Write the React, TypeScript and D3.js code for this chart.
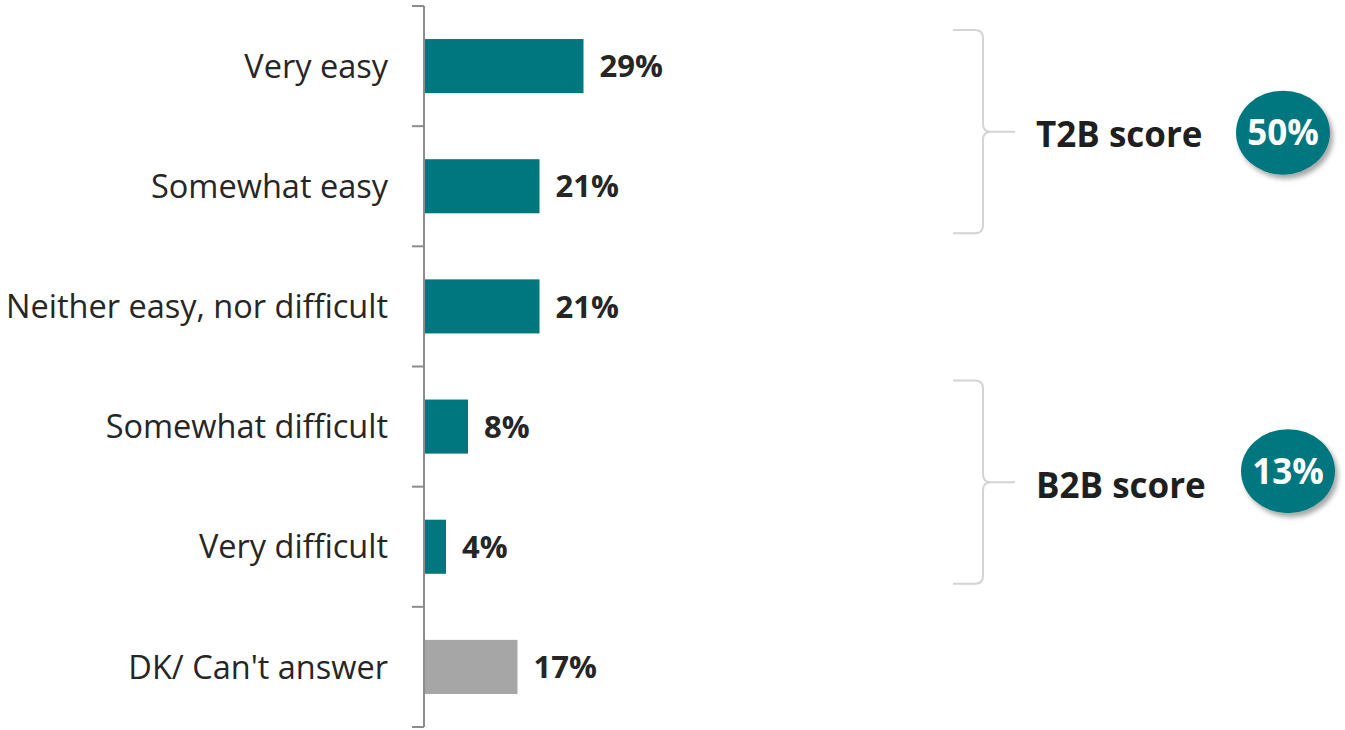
import React, { useEffect, useRef } from "react";
import * as d3 from "d3";

const categories = [
  "Very easy",
  "Somewhat easy",
  "Neither easy, nor difficult",
  "Somewhat difficult",
  "Very difficult",
  "DK/ Can't answer",
];
const values = [29, 21, 21, 8, 4, 17];
const barColors = ["#00767e", "#00767e", "#00767e", "#00767e", "#00767e", "#a6a6a6"];

const groupLabels = ["T2B score", "B2B score"];
const groupScores = ["50%", "13%"];
const groupSpans = [
  ["Very easy", "Somewhat easy"],
  ["Somewhat difficult", "Very difficult"],
];

const W = 1345;
const H = 730;
const FONT = "'Open Sans', sans-serif";

export default function App() {
  const ref = useRef(null);

  useEffect(() => {
    const svg = d3.select(ref.current);
    svg.selectAll("*").remove();

    const axisX = 424;
    const y = d3
      .scaleBand()
      .domain(categories)
      .range([6, 727])
      .paddingInner(0.55)
      .paddingOuter(0.275);
    const x = d3.scaleLinear().domain([0, 100]).range([axisX, axisX + 550]);

    const defs = svg.append("defs");
    const f = defs
      .append("filter")
      .attr("id", "shadow")
      .attr("x", "-30%")
      .attr("y", "-30%")
      .attr("width", "160%")
      .attr("height", "160%");
    f.append("feDropShadow")
      .attr("dx", 3)
      .attr("dy", 4)
      .attr("stdDeviation", 2.5)
      .attr("flood-color", "#000")
      .attr("flood-opacity", 0.35);

    // bars
    svg
      .append("g")
      .selectAll("rect")
      .data(values)
      .join("rect")
      .attr("x", x(0))
      .attr("y", (d, i) => y(categories[i]))
      .attr("width", (d) => x(d) - x(0))
      .attr("height", y.bandwidth())
      .attr("fill", (d, i) => barColors[i]);

    // value labels
    svg
      .append("g")
      .selectAll("text")
      .data(values)
      .join("text")
      .attr("x", (d) => x(d) + 16)
      .attr("y", (d, i) => y(categories[i]) + y.bandwidth() / 2)
      .attr("dy", "0.36em")
      .attr("font-family", FONT)
      .attr("font-weight", "bold")
      .attr("font-size", 31)
      .attr("fill", "#262626")
      .text((d) => d + "%");

    // category labels
    svg
      .append("g")
      .selectAll("text")
      .data(categories)
      .join("text")
      .attr("x", 388)
      .attr("y", (d) => y(d) + y.bandwidth() / 2)
      .attr("dy", "0.36em")
      .attr("text-anchor", "end")
      .attr("font-family", FONT)
      .attr("font-size", 32.5)
      .attr("fill", "#262626")
      .text((d) => d);

    // axis
    const step = y.step();
    const y0 = y.range()[0];
    const axis = svg.append("g").attr("stroke", "#8c8c8c").attr("stroke-width", 2);
    axis
      .append("line")
      .attr("x1", axisX)
      .attr("x2", axisX)
      .attr("y1", y0)
      .attr("y2", y.range()[1]);
    axis
      .selectAll("line.tick")
      .data(d3.range(categories.length + 1))
      .join("line")
      .attr("class", "tick")
      .attr("x1", axisX - 12)
      .attr("x2", axisX)
      .attr("y1", (i) => y0 + i * step)
      .attr("y2", (i) => y0 + i * step);

    // brackets
    const bracketShift = [5, -5];
    const circleShift = [1, -11];
    groupSpans.forEach((span, gi) => {
      const top = y(span[0]) - 14 + bracketShift[gi];
      const bot = y(span[1]) + y.bandwidth() + 15 + bracketShift[gi];
      const mid = (top + bot) / 2;
      const bx = 983;
      const p = d3.path();
      p.moveTo(953, top);
      p.lineTo(bx - 8, top);
      p.quadraticCurveTo(bx, top, bx, top + 8);
      p.lineTo(bx, mid - 8);
      p.quadraticCurveTo(bx, mid, bx + 8, mid);
      p.lineTo(1015, mid);
      p.moveTo(bx + 8, mid);
      p.quadraticCurveTo(bx, mid, bx, mid + 8);
      p.lineTo(bx, bot - 8);
      p.quadraticCurveTo(bx, bot, bx - 8, bot);
      p.lineTo(953, bot);
      svg
        .append("path")
        .attr("d", p.toString())
        .attr("fill", "none")
        .attr("stroke", "#d4d4d4")
        .attr("stroke-width", 2);

      svg
        .append("text")
        .attr("x", 1036)
        .attr("y", mid + 3)
        .attr("dy", "0.36em")
        .attr("font-family", FONT)
        .attr("font-weight", "bold")
        .attr("font-size", 35)
        .attr("fill", "#1f1f1f")
        .text(groupLabels[gi]);

      const cx = gi === 0 ? 1283 : 1288;
      const cy = mid + circleShift[gi];
      svg
        .append("ellipse")
        .attr("cx", cx)
        .attr("cy", cy)
        .attr("rx", 47)
        .attr("ry", 42)
        .attr("fill", "#00767e")
        .attr("filter", "url(#shadow)");
      svg
        .append("text")
        .attr("x", cx)
        .attr("y", cy)
        .attr("dy", "0.36em")
        .attr("text-anchor", "middle")
        .attr("font-family", FONT)
        .attr("font-weight", "bold")
        .attr("font-size", 35)
        .attr("fill", "#ffffff")
        .text(groupScores[gi]);
    });
  }, []);

  return (
    <svg
      ref={ref}
      width={W}
      height={H}
      style={{ position: "absolute", left: 0, top: 0, background: "#fff" }}
    />
  );
}
